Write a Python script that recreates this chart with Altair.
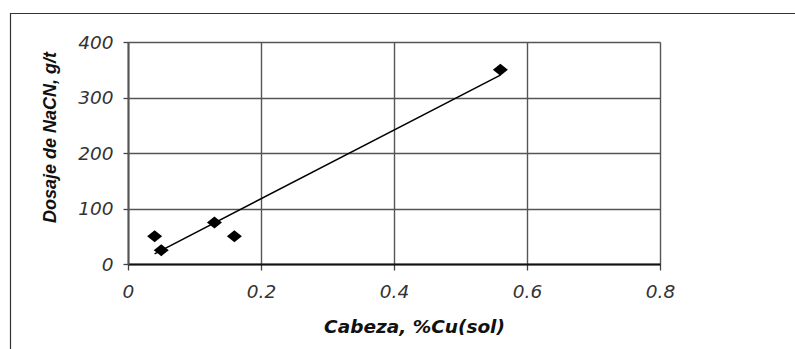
import altair as alt
import pandas as pd

# Head grade vs. cyanide dosage
cabeza = [0.04, 0.05, 0.13, 0.16, 0.56]
dosaje = [50, 25, 75, 50, 350]

x_ticks = [0, 0.2, 0.4, 0.6, 0.8]
y_ticks = [0, 100, 200, 300, 400]

df = pd.DataFrame({"cabeza": cabeza, "dosaje": dosaje})

W, H = 532, 222

x_scale = alt.Scale(domain=[0, 0.8], nice=False, zero=False)
y_scale = alt.Scale(domain=[0, 400], nice=False)

x_axis = alt.Axis(
    values=x_ticks, format="~g", title="Cabeza, %Cu(sol)",
    grid=True, gridColor="#555555", gridWidth=1.4,
    domainColor="#111111", domainWidth=2,
    tickColor="#444444", tickSize=6, tickWidth=1.3,
    labelFont="DejaVu Sans", labelFontStyle="italic", labelFontSize=18.5,
    labelColor="#333333", labelPadding=12, labelFlush=False,
    titleFont="DejaVu Sans", titleFontStyle="italic", titleFontWeight="bold",
    titleFontSize=18.5, titleColor="#111111",
    titleX=286, titleY=68, titleAlign="center", titleBaseline="alphabetic",
)
y_axis = alt.Axis(
    values=y_ticks, title="Dosaje de NaCN, g/t",
    grid=True, gridColor="#555555", gridWidth=1.4,
    domainColor="#555555", domainWidth=2,
    tickColor="#444444", tickSize=5, tickWidth=1.3,
    labelFont="DejaVu Sans", labelFontStyle="italic", labelFontSize=18.5,
    labelColor="#333333", labelPadding=10, labelFlush=False,
    titleFont="Liberation Sans", titleFontStyle="italic", titleFontWeight="bold",
    titleFontSize=18, titleColor="#111111",
    titleX=-73, titleY=95, titleAlign="center", titleBaseline="alphabetic",
    titleAngle=270,
)

base = alt.Chart(df)

points = base.mark_point(
    shape="M-1,0L0,-0.8L1,0L0,0.8Z", filled=True, color="black",
    size=225, opacity=1,
).encode(
    x=alt.X("cabeza:Q", scale=x_scale, axis=x_axis),
    y=alt.Y("dosaje:Q", scale=y_scale, axis=y_axis),
)

trend = base.transform_regression("cabeza", "dosaje").mark_line(
    color="black", strokeWidth=1.5
).encode(
    x=alt.X("cabeza:Q", scale=x_scale),
    y=alt.Y("dosaje:Q", scale=y_scale),
)

# Outer frame of the figure (top and left edges)
frame_top = alt.Chart(pd.DataFrame({"k": [0]})).mark_rule(
    color="#333333", strokeWidth=1.2, clip=False
).encode(x=alt.value(-118), x2=alt.value(W + 140), y=alt.value(-28.5))
frame_left = alt.Chart(pd.DataFrame({"k": [0]})).mark_rule(
    color="#333333", strokeWidth=1.2, clip=False
).encode(x=alt.value(-117.5), y=alt.value(-28.5), y2=alt.value(H + 100))

chart = alt.layer(frame_top, frame_left, trend, points).properties(
    width=W, height=H,
    autosize=alt.AutoSizeParams(type="none"),
    padding={"left": 128, "top": 42, "right": 795 - 128 - W, "bottom": 349 - 42 - H},
    background="white",
).configure_view(stroke=None)

chart.save("out.html", embed_options={"renderer": "svg", "actions": False})
